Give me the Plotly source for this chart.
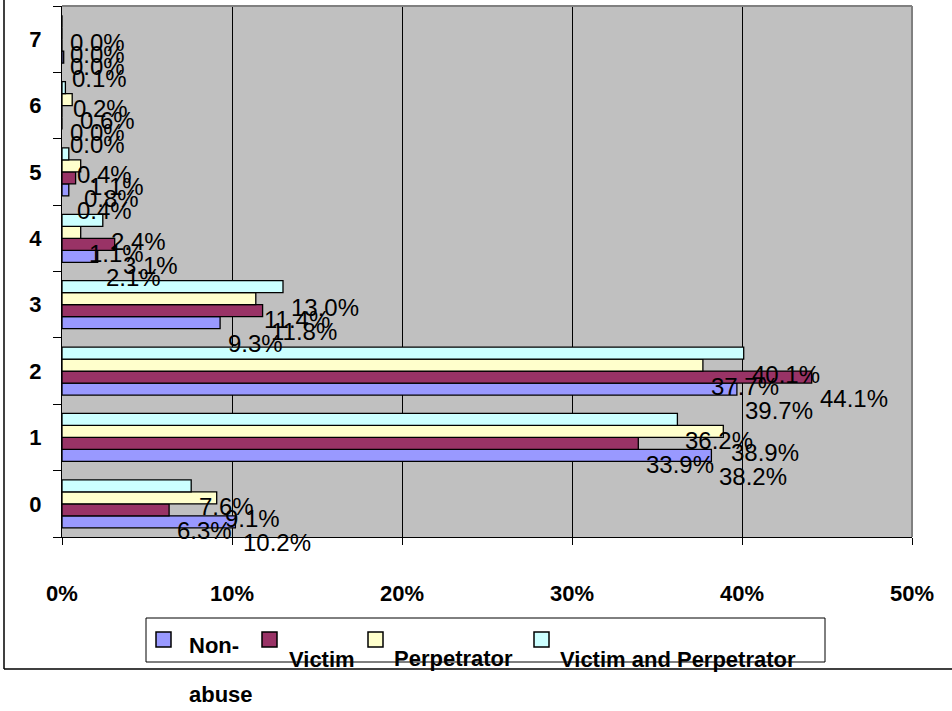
import plotly.graph_objects as go

# ---- data ----
categories = ["0", "1", "2", "3", "4", "5", "6", "7"]
series_names = ["Non-abuse", "Victim", "Perpetrator", "Victim and Perpetrator"]
non_abuse = [10.2, 38.2, 39.7, 9.3, 2.1, 0.4, 0.0, 0.1]
victim = [6.3, 33.9, 44.1, 11.8, 3.1, 0.8, 0.0, 0.0]
perpetrator = [9.1, 38.9, 37.7, 11.4, 1.1, 1.1, 0.6, 0.0]
victim_and_perp = [7.6, 36.2, 40.1, 13.0, 2.4, 0.4, 0.2, 0.0]
x_tick_vals = [0, 10, 20, 30, 40, 50]
x_tick_text = ["0%", "10%", "20%", "30%", "40%", "50%"]

series_values = [non_abuse, victim, perpetrator, victim_and_perp]
colors = ["#9999FF", "#993366", "#FFFFCC", "#CCFFFF"]

FONT = "Liberation Sans, Arial, sans-serif"
W, H = 952, 711
L, R, T, B = 62, 912, 6, 537  # plot area pixel box


def px(x):
    return (x - L) / (R - L)


def py(y):
    return (B - y) / (B - T)


fig = go.Figure()
for name, vals, col in zip(series_names, series_values, colors):
    fig.add_trace(go.Bar(
        name=name, y=categories, x=vals, orientation="h",
        marker=dict(color=col, line=dict(color="black", width=1.3)),
        showlegend=False, hoverinfo="x+y+name",
    ))

bargap = 0.277
n = len(series_values)
bw = (1 - bargap) / n
annotations = []
for i, vals in enumerate(series_values):
    off = -(1 - bargap) / 2 + bw * (i + 0.5)
    for j, v in enumerate(vals):
        annotations.append(dict(
            x=v, y=j + off, xref="x", yref="y",
            text=f"{v:.1f}%", showarrow=False,
            xanchor="left", yanchor="middle", xshift=6, yshift=-21,
            font=dict(family=FONT, size=24, color="black"),
        ))

# manual legend (reproduces the wrapped "Non-" / "abuse" layout)
shapes = []
shapes.append(dict(type="rect", xref="paper", yref="paper",
                   x0=px(146), x1=px(825), y0=py(662), y1=py(618),
                   line=dict(color="black", width=1), fillcolor="white", layer="above"))
sq_left = [156, 262, 368, 534]
txt_left = [187, 287, 392, 558]
txt_y = [645, 659, 658, 659]
labels = ["Non-", series_names[1], series_names[2], series_names[3]]
for sl, col in zip(sq_left, colors):
    shapes.append(dict(type="rect", xref="paper", yref="paper",
                       x0=px(sl), x1=px(sl + 15), y0=py(647), y1=py(632),
                       line=dict(color="black", width=1.5), fillcolor=col, layer="above"))
for tl, ty, lab in zip(txt_left, txt_y, labels):
    annotations.append(dict(
        x=px(tl), y=py(ty), xref="paper", yref="paper", text=lab,
        showarrow=False, xanchor="left", yanchor="middle",
        font=dict(family=FONT, size=22, color="black", weight="bold"),
    ))
annotations.append(dict(
    x=px(187), y=py(694), xref="paper", yref="paper", text="abuse",
    showarrow=False, xanchor="left", yanchor="middle",
    font=dict(family=FONT, size=22, color="black", weight="bold"),
))

# plot area top/right gray border
shapes.append(dict(type="line", xref="paper", yref="paper", x0=0, x1=1, y0=1, y1=1,
                   line=dict(color="#808080", width=2), layer="above"))
shapes.append(dict(type="line", xref="paper", yref="paper", x0=1, x1=1, y0=0, y1=1,
                   line=dict(color="#808080", width=2), layer="above"))
# outer chart border (left and bottom)
shapes.append(dict(type="line", xref="paper", yref="paper", x0=px(4), x1=px(4),
                   y0=py(669), y1=py(0), line=dict(color="black", width=1.5)))
shapes.append(dict(type="line", xref="paper", yref="paper", x0=px(4), x1=px(W),
                   y0=py(669), y1=py(669), line=dict(color="black", width=1.5)))

fig.update_layout(
    width=W, height=H,
    margin=dict(l=L, r=W - R, t=T, b=H - B, pad=0, autoexpand=False),
    barmode="group", bargap=bargap, bargroupgap=0,
    plot_bgcolor="#C0C0C0", paper_bgcolor="white",
    font=dict(family=FONT, color="black"),
    showlegend=False,
    annotations=annotations, shapes=shapes,
    xaxis=dict(
        range=[0, 50], tickvals=x_tick_vals, ticktext=x_tick_text,
        showgrid=True, gridcolor="black", gridwidth=1,
        showline=True, linecolor="black", linewidth=1,
        ticks="outside", ticklen=7, tickcolor="black",
        tickfont=dict(family=FONT, size=22, color="black", weight="bold"),
        ticklabelstandoff=30, zeroline=False, fixedrange=True, automargin=False,
    ),
    yaxis=dict(
        type="category", categoryorder="array", categoryarray=categories,
        range=[-0.5, 7.5], showgrid=False,
        showline=True, linecolor="black", linewidth=1,
        ticks="outside", ticklen=8, tickcolor="black", tickson="boundaries",
        tickfont=dict(family=FONT, size=22, color="black", weight="bold"),
        ticklabelstandoff=15, zeroline=False, fixedrange=True, automargin=False,
    ),
)

fig.write_html(
    "out.html",
    config={"displayModeBar": False},
    post_script="document.body.style.margin='0';document.body.style.overflow='hidden';",
)
